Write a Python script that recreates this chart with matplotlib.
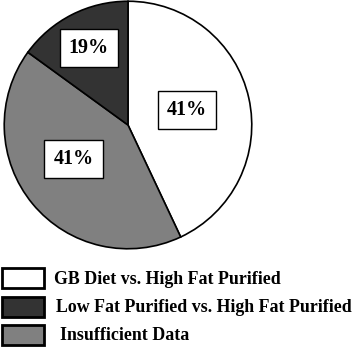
import numpy as np
import matplotlib.pyplot as plt
from matplotlib.patches import Rectangle

# slice sizes as drawn, with the printed labels
categories = ['GB Diet vs. High Fat Purified', 'Insufficient Data',
              'Low Fat Purified vs. High Fat Purified']
sizes = [43, 42, 15]
pct_labels = ['41%', '41%', '19%']
colors = ['#ffffff', '#808080', '#333333']

# legend order in the picture
legend_order = [0, 2, 1]

W, H = 359, 348
fig = plt.figure(figsize=(W / 100, H / 100), dpi=100)
ax = fig.add_axes([3 / W, 98 / H, 250 / W, 250 / H])

wedges, _ = ax.pie(sizes, colors=colors, startangle=90, counterclock=False,
                   wedgeprops=dict(edgecolor='black', linewidth=1.2))
ax.set_xlim(-1.01, 1.01)
ax.set_ylim(-1.01, 1.01)
ax.set_aspect('equal')
ax.axis('off')

# label positions (radius, angle in deg) for each slice
label_pos = [(0.49, 14), (0.52, 212), (0.70, 117)]
for (r, a), txt in zip(label_pos, pct_labels):
    x, y = r * np.cos(np.radians(a)), r * np.sin(np.radians(a))
    ax.text(x, y, txt, ha='center', va='center', fontsize=14.5,
            family='Liberation Serif', fontweight='bold',
            bbox=dict(boxstyle='square,pad=0.45', facecolor='white',
                      edgecolor='black', linewidth=1))

# legend drawn by hand: boxes and text in pixel positions
box_tops = [268, 297, 325]
text_x = [54, 56, 60]
for i, idx in enumerate(legend_order):
    top = box_tops[i]
    fig.add_artist(Rectangle((2 / W, 1 - (top + 20) / H), 42 / W, 20 / H,
                             transform=fig.transFigure,
                             facecolor=colors[idx], edgecolor='black',
                             linewidth=2))
    fig.text(text_x[i] / W, 1 - (top + 11) / H, categories[idx],
             ha='left', va='center', fontsize=12.9,
             family='Liberation Serif', fontweight='bold')

fig.savefig('out.png', dpi=100)
